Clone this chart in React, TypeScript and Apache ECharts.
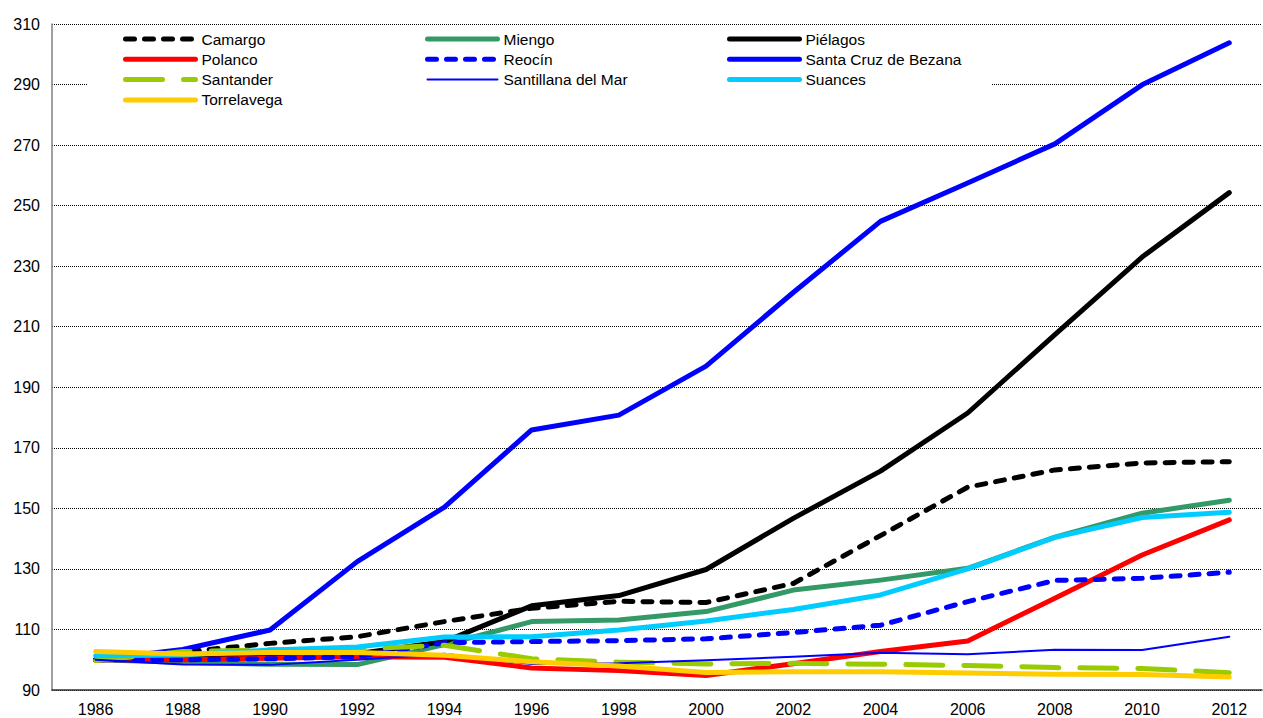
import React, { useEffect, useRef } from "react";
import * as echarts from "echarts";

const years = [1986, 1988, 1990, 1992, 1994, 1996, 1998, 2000, 2002, 2004, 2006, 2008, 2010, 2012];

const camargo = [100, 102.5, 105.4, 107.6, 112.6, 117, 119.3, 118.9, 125.2, 141, 157, 162.7, 165, 165.4];
const miengo = [100, 99.2, 98.5, 98.4, 105, 112.6, 113.1, 115.9, 123, 126.3, 130.2, 140.5, 148.4, 152.7];
const pielagos = [100, 100.5, 101, 102, 106, 117.8, 121.2, 129.8, 146.7, 162.3, 181.5, 207.4, 233, 254.3];
const polanco = [100, 100, 100.5, 101, 100.8, 97.3, 96.4, 94.8, 98.7, 102.7, 106.2, 120.3, 134.6, 146.2];
const reocin = [100, 100, 100.3, 101, 105.6, 106, 106.3, 106.9, 109, 111.4, 119.2, 126.2, 126.9, 128.9];
const santaCruz = [100, 103.4, 109.8, 132.4, 150.4, 175.9, 180.8, 197, 221.3, 244.8, 257.5, 270.4, 289.9, 303.8];
const santander = [99.7, 102.7, 103.3, 103.5, 104.8, 100.3, 99.2, 98.6, 98.8, 98.5, 98.1, 97.4, 97.1, 95.7];
const santillana = [100, 98.4, 98.3, 100, 102, 98.6, 98.8, 99.8, 101, 102.3, 101.8, 103.3, 103.2, 107.6];
const suances = [101.3, 101.6, 103.2, 104.2, 107.5, 107.6, 109.8, 112.8, 116.6, 121.4, 130, 140.4, 147, 148.7];
const torrelavega = [102.7, 101.9, 102.4, 102.4, 101.5, 99.3, 97.9, 95.8, 96, 96, 95.6, 95.2, 95.1, 94.3];

const yTicks = { min: 90, max: 310, interval: 20 };

const FONT = "'Liberation Sans', Arial, sans-serif";

type S = {
  name: string;
  values: number[];
  color: string;
  width: number;
  dash?: number[];
};

const seriesDefs: S[] = [
  { name: "Camargo", values: camargo, color: "#000000", width: 5, dash: [9, 10] },
  { name: "Miengo", values: miengo, color: "#339966", width: 5 },
  { name: "Piélagos", values: pielagos, color: "#000000", width: 5 },
  { name: "Polanco", values: polanco, color: "#FF0000", width: 5 },
  { name: "Reocín", values: reocin, color: "#0000FF", width: 5, dash: [9, 10] },
  { name: "Santa Cruz de Bezana", values: santaCruz, color: "#0000FF", width: 5 },
  { name: "Santander", values: santander, color: "#99CC00", width: 5, dash: [37, 21] },
  { name: "Santillana del Mar", values: santillana, color: "#0000FF", width: 2 },
  { name: "Suances", values: suances, color: "#00CCFF", width: 5 },
  { name: "Torrelavega", values: torrelavega, color: "#FFCC00", width: 5 },
];

const legendCols = [
  { left: 123, names: ["Camargo", "Polanco", "Santander", "Torrelavega"] },
  { left: 425, names: ["Miengo", "Reocín", "Santillana del Mar"] },
  { left: 727, names: ["Piélagos", "Santa Cruz de Bezana", "Suances"] },
];

export default function App() {
  const ref = useRef<HTMLDivElement>(null);
  useEffect(() => {
    if (!ref.current) return;
    const chart = echarts.init(ref.current, undefined, { renderer: "svg" });
    const byName: Record<string, S> = {};
    seriesDefs.forEach((s) => (byName[s.name] = s));
    chart.setOption({
      animation: false,
      backgroundColor: "#ffffff",
      grid: { left: 52, top: 24, right: 1, bottom: 28, containLabel: false },
      graphic: [
        {
          type: "rect",
          z: 1,
          shape: { x: 87, y: 28, width: 905, height: 82 },
          style: { fill: "#ffffff" },
        },
      ],
      legend: legendCols.map((c) => ({
        orient: "vertical",
        left: c.left,
        top: 29,
        padding: 0,
        itemGap: 0.3,
        itemWidth: 70,
        itemHeight: 10,
        itemStyle: { opacity: 0 },
        data: c.names.map((n) => ({
          name: n,
          itemStyle: { opacity: 0 },
          lineStyle: {
            color: byName[n].color,
            width: byName[n].width,
            type: byName[n].dash ? byName[n].dash : "solid",
            cap: "round",
          },
        })),
        textStyle: { fontFamily: FONT, fontSize: 15.5, color: "#000", lineHeight: 20, padding: [0, 0, 0, 1] },
        selectedMode: false,
      })),
      xAxis: {
        type: "value",
        min: 1985,
        max: 2012.75,
        interval: 1,
        splitLine: { show: false },
        axisTick: { show: false },
        axisLine: { show: true, onZero: false, lineStyle: { color: "#333333", width: 1.5 } },
        axisLabel: {
          showMaxLabel: false,
          fontFamily: FONT,
          fontSize: 16,
          color: "#000",
          margin: 11,
          formatter: (v: number) => (v % 2 === 0 ? String(v) : ""),
        },
      },
      yAxis: {
        type: "value",
        min: yTicks.min,
        max: yTicks.max,
        interval: yTicks.interval,
        axisLine: { show: true, lineStyle: { color: "#808080", width: 1.5 } },
        axisTick: { show: false },
        splitLine: { show: true, lineStyle: { color: "#000000", width: 1, type: [1, 1] } },
        axisLabel: { fontFamily: FONT, fontSize: 16, color: "#000", margin: 12 },
      },
      series: seriesDefs.map((s, i) => ({
        name: s.name,
        type: "line",
        z: 2 + i * 0.01,
        symbol: "none",
        data: years.map((y, k) => [y, s.values[k]]),
        lineStyle: {
          color: s.color,
          width: s.width,
          type: s.dash ? s.dash : "solid",
          cap: "round",
          join: "round",
        },
        itemStyle: { color: s.color },
      })),
    });
    return () => chart.dispose();
  }, []);
  return (
    <div
      ref={ref}
      style={{ position: "absolute", left: 0, top: 0, width: 1263, height: 718 }}
    />
  );
}
